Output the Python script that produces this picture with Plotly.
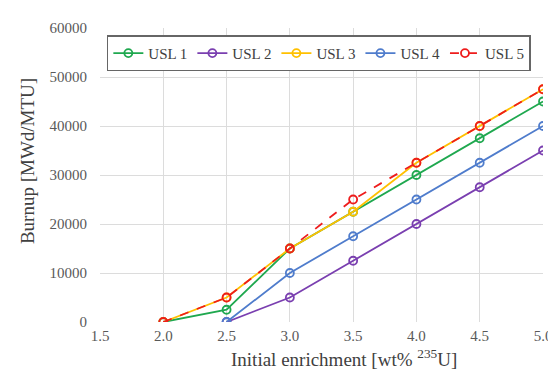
import plotly.graph_objects as go

enrich_a = [2.0, 2.5, 3.0, 3.5, 4.0, 4.5, 5.0]
enrich_b = [2.5, 3.0, 3.5, 4.0, 4.5, 5.0]
usl1 = [0, 2500, 15000, 22500, 30000, 37500, 45000]
usl2 = [0, 5000, 12500, 20000, 27500, 35000]
usl3 = [0, 5000, 15000, 22500, 32500, 40000, 47500]
usl4 = [0, 10000, 17500, 25000, 32500, 40000]
usl5 = [0, 5000, 15000, 25000, 32500, 40000, 47500]
x_ticks = [1.5, 2.0, 2.5, 3.0, 3.5, 4.0, 4.5, 5.0]
y_ticks = [0, 10000, 20000, 30000, 40000, 50000, 60000]

series = [
    ("USL 1", enrich_a, usl1, "#1fa84f", "solid"),
    ("USL 2", enrich_b, usl2, "#7a3fb0", "solid"),
    ("USL 3", enrich_a, usl3, "#ffc000", "solid"),
    ("USL 4", enrich_b, usl4, "#4f7ccc", "solid"),
    ("USL 5", enrich_a, usl5, "#ee1c1c", "dash"),
]

fig = go.Figure()
for name, x, y, c, d in series:
    fig.add_trace(go.Scatter(
        x=x, y=y, name=name, mode="lines+markers",
        line=dict(color=c, width=1.8, dash=d),
        marker=dict(symbol="circle-open", size=8, color=c, line=dict(width=1.8, color=c)),
    ))

font_family = "Times New Roman, Times, Nimbus Roman, FreeSerif, Tinos, DejaVu Serif"
fig.update_layout(
    width=556, height=372,
    margin=dict(l=92, r=20, t=16, b=58),
    paper_bgcolor="white", plot_bgcolor="white",
    font=dict(family=font_family, color="#595959", size=15),
    showlegend=True,
    legend=dict(
        orientation="h", x=0.494, xanchor="center", y=0.975, yanchor="top",
        bgcolor="white", bordercolor="#666666", borderwidth=1.5,
        font=dict(family=font_family, size=15, color="#404040"),
        itemwidth=30, tracegroupgap=0,
    ),
    xaxis=dict(
        range=[1.5, 5.0], tickvals=x_ticks,
        ticktext=[f"{v:.1f}" for v in x_ticks],
        showgrid=True, gridcolor="#dcdcdc", gridwidth=1, zeroline=False,
        showline=False, ticks="", ticklabelstandoff=3, ticklabeloverflow="allow",
        tickfont=dict(family=font_family, size=15, color="#595959"),
    ),
    yaxis=dict(
        range=[0, 60000], tickvals=y_ticks,
        showgrid=True, gridcolor="#dcdcdc", gridwidth=1, zeroline=False,
        showline=False, ticks="", tickformat="d", ticklabelstandoff=12,
        tickfont=dict(family=font_family, size=15, color="#595959"),
    ),
    annotations=[
        dict(text="Initial enrichment [wt% <sup>235</sup>U]", xref="paper", yref="paper",
             x=0.55, y=-0.122, xanchor="center", yanchor="middle", showarrow=False,
             font=dict(family=font_family, size=19, color="#404040")),
        dict(text="Burnup [MWd/MTU]", xref="paper", yref="paper", textangle=-90,
             x=-0.165, y=0.547, xanchor="center", yanchor="middle", showarrow=False,
             font=dict(family=font_family, size=19, color="#404040")),
    ],
)
fig.write_html("out.html")
